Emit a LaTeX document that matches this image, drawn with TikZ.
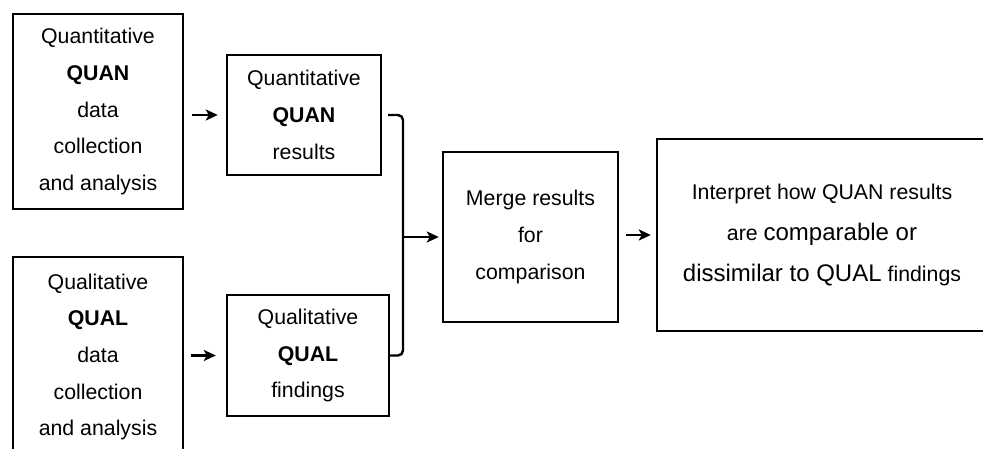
\documentclass[tikz,border=0pt]{standalone}
\usepackage{fontspec}
\setmainfont{Liberation Sans}
\usetikzlibrary{arrows.meta}

\begin{document}
\begin{tikzpicture}[x=1pt,y=-1pt,
  box/.style={draw=black, line width=2.4pt, rectangle, inner sep=0pt, align=center,
    font=\fontsize{21.3}{36.7}\selectfont},
  flow/.style={line width=2.5pt, -{Stealth[length=12pt,width=11pt,inset=3pt]}},
  bracketline/.style={line width=2.4pt, rounded corners=5pt}]
  \useasboundingbox (0,0) rectangle (983,449);
  \clip (0,0) rectangle (983,449);
  \fill[white] (0,0) rectangle (983,449);

  % data collection boxes
  \node[box, minimum width=170pt, minimum height=195pt] (quanData) at (98,111.5)
    {Quantitative\\\textbf{QUAN}\\data\\collection\\and analysis};
  \node[box, minimum width=170pt, minimum height=200pt] (qualData) at (98,357)
    {Qualitative\\\textbf{QUAL}\\data\\collection\\and analysis};

  % result boxes
  \node[box, minimum width=154pt, minimum height=120pt] (quanRes) at (304,115)
    {Quantitative\\\textbf{QUAN}\\results};
  \node[box, minimum width=162pt, minimum height=121pt] (qualRes) at (308,355.5)
    {Qualitative\\\textbf{QUAL}\\findings};

  % merge and interpretation
  \node[box, minimum width=175pt, minimum height=170pt] (merge) at (530.5,237)
    {Merge results\\for\\comparison};
  \node[box, minimum width=330pt, minimum height=192pt, font=\fontsize{21.3}{41}\selectfont] (interp) at (822,235)
    {Interpret how QUAN results\\are {\fontsize{24}{41}\selectfont comparable or}\\{\fontsize{24}{41}\selectfont dissimilar to QUAL} findings};

  % arrows from data boxes to result boxes
  \draw[flow, shorten <=8pt, shorten >=8pt] (quanData.east |- quanRes.east) -- (quanRes.west);
  \draw[flow, shorten <=7pt, shorten >=10pt] (qualData.east |- qualRes.west) -- (qualRes.west);

  % bracket joining both result boxes
  \coordinate (bx) at (403,0);
  \draw[bracketline] ([xshift=6pt]quanRes.east) -| (bx |- qualRes.east) -- (qualRes.east);
  \draw[flow, shorten >=3pt] (bx |- merge.west) -- (merge.west);

  % merge to interpretation
  \draw[flow, shorten <=7pt, shorten >=5pt] (merge.east |- interp.west) -- (interp.west);
\end{tikzpicture}
\end{document}
